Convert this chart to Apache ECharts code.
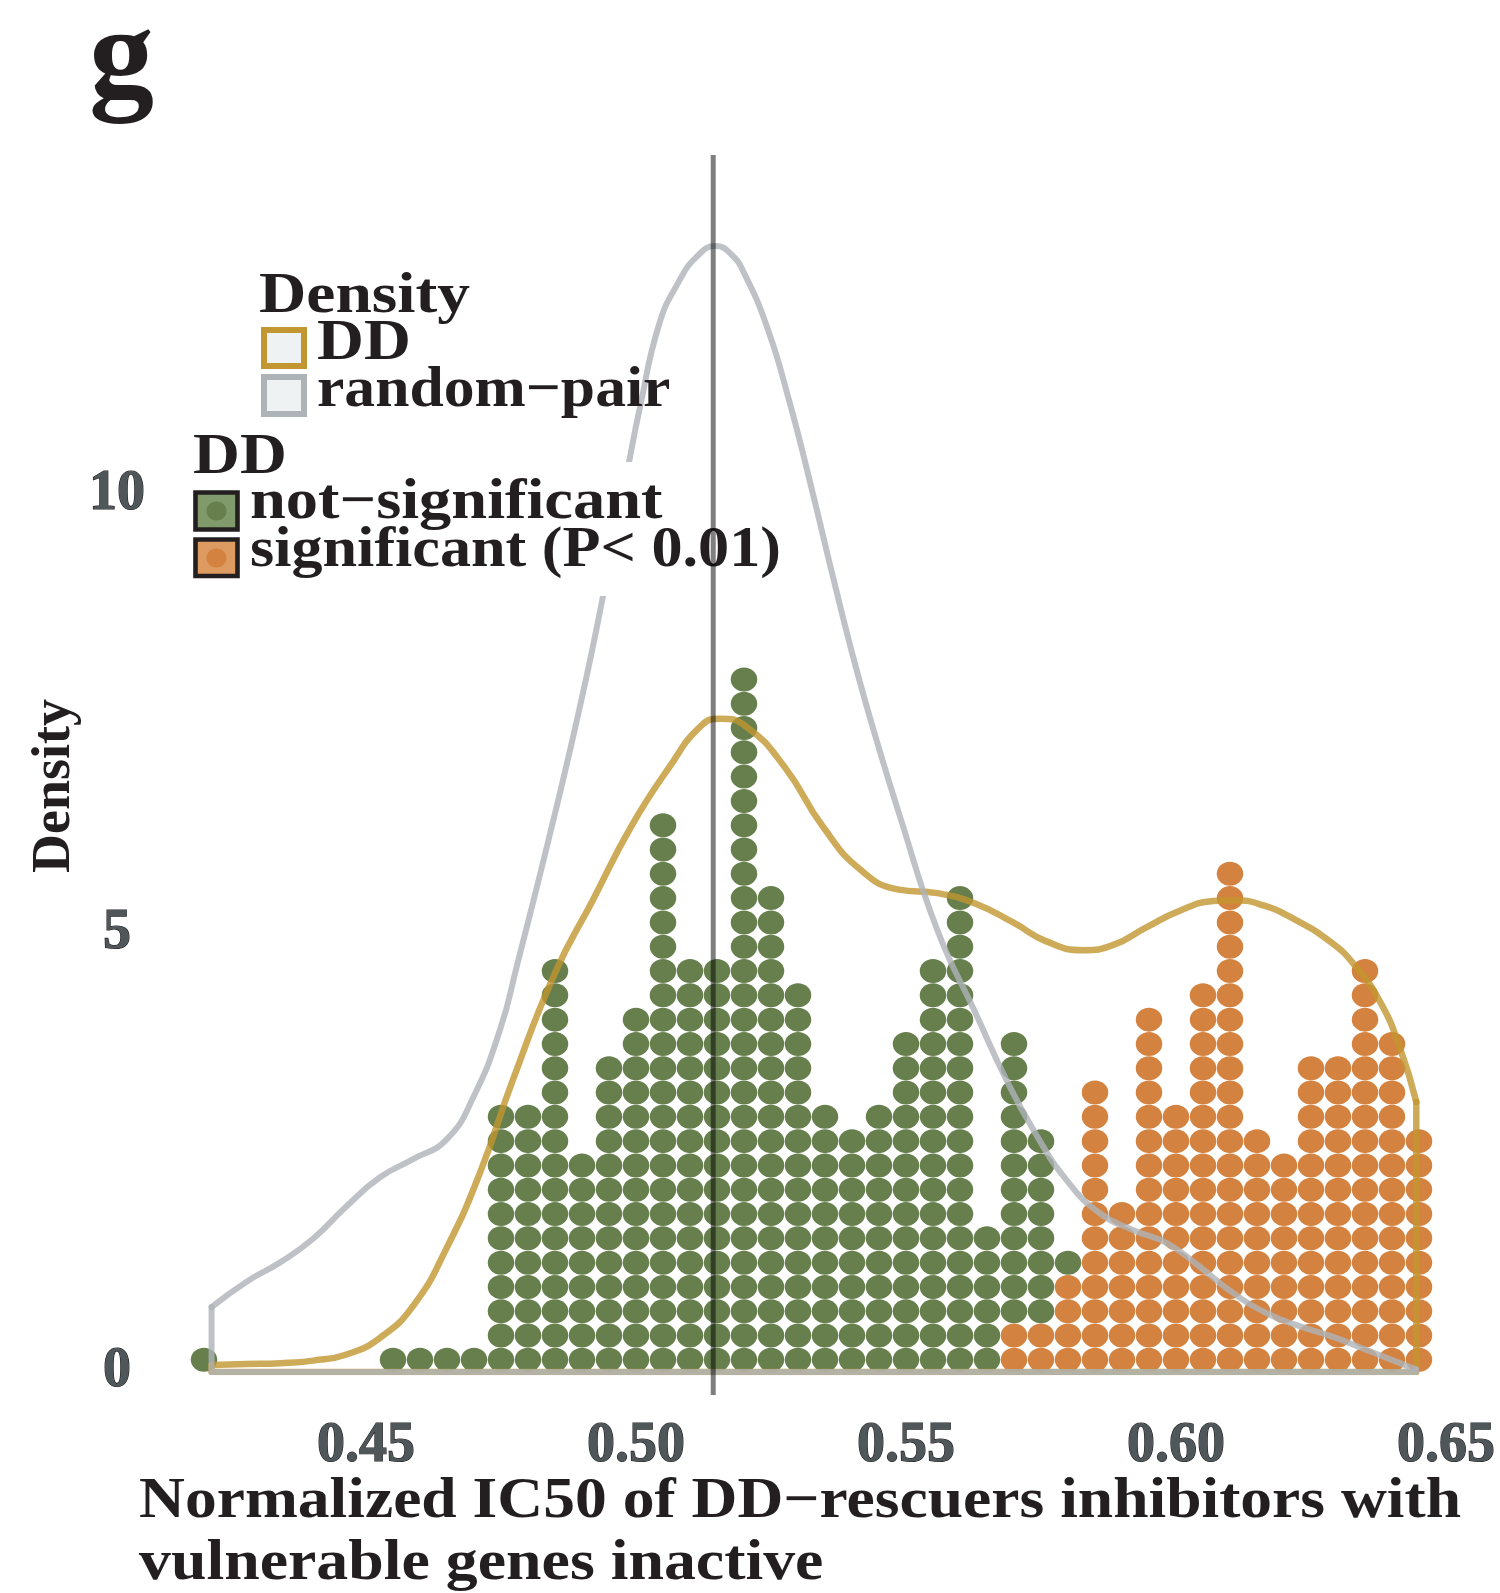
<!DOCTYPE html>
<html>
<head>
<meta charset="utf-8">
<title>Normalized IC50 dot plot</title>
<script src="https://cdn.jsdelivr.net/npm/echarts@6/dist/echarts.min.js"></script>
<style>
  html, body { margin: 0; padding: 0; background: #ffffff; }
  #chart { width: 1500px; height: 1593px; }
</style>
</head>
<body>
<div id="chart"></div>
<script>
// ---- data -------------------------------------------------------------
// dot-plot bin centres (normalized IC50)
const binX = [
  0.420, 0.425, 0.430, 0.435, 0.440, 0.445, 0.450, 0.455, 0.460, 0.465,
  0.470, 0.475, 0.480, 0.485, 0.490, 0.495, 0.500, 0.505, 0.510, 0.515,
  0.520, 0.525, 0.530, 0.535, 0.540, 0.545, 0.550, 0.555, 0.560, 0.565,
  0.570, 0.575, 0.580, 0.585, 0.590, 0.595, 0.600, 0.605, 0.610, 0.615,
  0.620, 0.625, 0.630, 0.635, 0.640, 0.645
];
// number of DD pairs per bin, by significance
const notSignificant = [
  1, 0, 0, 0, 0, 0, 0, 1, 1, 1,
  1, 11, 11, 17, 9, 13, 15, 23, 17, 17,
  29, 20, 16, 11, 10, 11, 14, 17, 20, 6,
  12, 8, 1, 0, 0, 0, 0, 0, 0, 0,
  0, 0, 0, 0, 0, 0
];
const significant = [
  0, 0, 0, 0, 0, 0, 0, 0, 0, 0,
  0, 0, 0, 0, 0, 0, 0, 0, 0, 0,
  0, 0, 0, 0, 0, 0, 0, 0, 0, 0,
  2, 2, 4, 12, 7, 15, 11, 16, 21, 10,
  9, 13, 13, 17, 14, 10
];

// kernel density of DD pairs
const ddX = [
  0.4214, 0.4279, 0.4341, 0.4402, 0.4464, 0.4526, 0.4588, 0.4649, 0.4711, 0.4772,
  0.4850, 0.4920, 0.4991, 0.5062, 0.5119, 0.5156, 0.5204, 0.5275, 0.5346, 0.5417,
  0.5487, 0.5558, 0.5629, 0.5700, 0.5760, 0.5828, 0.5884, 0.5945, 0.6007, 0.6069,
  0.6106, 0.6162, 0.6223, 0.6285, 0.6328, 0.6378, 0.6415, 0.6445
];
const ddY = [
  0.08, 0.09, 0.10, 0.13, 0.20, 0.39, 0.76, 1.41, 2.27, 3.33,
  4.55, 5.38, 6.22, 6.90, 7.36, 7.45, 7.36, 6.90, 6.22, 5.72,
  5.50, 5.46, 5.34, 5.12, 4.91, 4.81, 4.87, 5.07, 5.26, 5.37,
  5.38, 5.32, 5.15, 4.91, 4.66, 4.22, 3.69, 3.08
];

// kernel density of random pairs
const randomX = [
  0.4214, 0.4279, 0.4341, 0.4402, 0.4464, 0.4526, 0.4588, 0.4649, 0.4700, 0.4748,
  0.4779, 0.4850, 0.4901, 0.4940, 0.4986, 0.5007, 0.5043, 0.5079, 0.5113, 0.5147,
  0.5177, 0.5201, 0.5243, 0.5283, 0.5325, 0.5367, 0.5407, 0.5449, 0.5487, 0.5558,
  0.5629, 0.5686, 0.5736, 0.5797, 0.5859, 0.5920, 0.5983, 0.6044, 0.6106, 0.6168,
  0.6230, 0.6291, 0.6353, 0.6444
];
const randomY = [
  0.74, 1.03, 1.25, 1.52, 1.89, 2.22, 2.43, 2.65, 3.15, 3.90,
  4.62, 6.37, 7.72, 8.88, 10.34, 10.99, 11.95, 12.43, 12.72, 12.84,
  12.74, 12.52, 11.91, 11.09, 10.08, 9.01, 8.04, 7.13, 6.37, 5.04,
  4.09, 3.33, 2.76, 2.19, 1.81, 1.62, 1.47, 1.20, 0.90, 0.67,
  0.52, 0.40, 0.25, 0.03
];

// reference line
const referenceIC50 = 0.5143;

// tick labels
const xTicks = [0.45, 0.50, 0.55, 0.60, 0.65];
const yTicks = [0, 5, 10];

// ---- styling ----------------------------------------------------------
const FONT = '"Liberation Serif", "Times New Roman", serif';
const INK = '#231f20';
const GREEN = '#667f4d';
const ORANGE = '#d4823f';
const GOLD = 'rgba(194,150,48,0.8)';
const GREY = 'rgba(174,179,184,0.8)';
const TEXT_SIZE = 56;
const DOT_STEP = 0.2771;   // height of one stacked dot, in density units

// ---- derived series ---------------------------------------------------
// significant dots sit at the bottom of each stack, not-significant above
const sigDots = [];
const nsDots = [];
binX.forEach((x, i) => {
  for (let k = 0; k < significant[i]; k++) {
    sigDots.push([x, (k + 0.5) * DOT_STEP]);
  }
  for (let k = 0; k < notSignificant[i]; k++) {
    nsDots.push([x, (significant[i] + k + 0.5) * DOT_STEP]);
  }
});

const pairs = (xs, ys) => xs.map((x, i) => [x, ys[i]]);
// sides and baseline of a density polygon
const outline = (xs, ys) => {
  const n = xs.length;
  return [[xs[n - 1], ys[n - 1]], [xs[n - 1], 0], [xs[0], 0], [xs[0], ys[0]]];
};

// ---- chart ------------------------------------------------------------
const chart = echarts.init(document.getElementById('chart'), null, { renderer: 'canvas' });

const tickText = {
  fontFamily: FONT,
  fontWeight: 'bold',
  fontSize: TEXT_SIZE,
  color: '#50575b',
  textBorderColor: '#1e1e1e',
  textBorderWidth: 1.2
};

// bold serif caption, stretched horizontally; placed by its baseline
function caption(text, x, baseline, stretch) {
  return {
    type: 'text',
    x: x,
    y: baseline - 0.3375 * TEXT_SIZE,
    scaleX: stretch,
    z: 60,
    silent: true,
    style: {
      text: text,
      fill: INK,
      font: 'bold ' + TEXT_SIZE + 'px ' + FONT,
      align: 'left',
      verticalAlign: 'middle'
    }
  };
}

const lineSeries = (data, color, width, smooth) => ({
  type: 'line',
  xAxisIndex: 0,
  yAxisIndex: 0,
  data: data,
  smooth: smooth,
  showSymbol: false,
  symbol: 'none',
  silent: true,
  z: 5,
  lineStyle: { color: color, width: width, cap: 'round', join: 'round' }
});

const option = {
  animation: false,
  backgroundColor: '#ffffff',
  grid: [
    { left: 150, right: 0, top: 155, bottom: 221 },
    { left: 150, right: 0, top: 155, bottom: 198 }
  ],
  xAxis: [
    {
      gridIndex: 0, type: 'value', min: 0.41, max: 0.66,
      axisLine: { show: false }, axisTick: { show: false }, splitLine: { show: false },
      axisLabel: Object.assign({
        customValues: xTicks,
        formatter: v => v.toFixed(2),
        margin: 47
      }, tickText)
    },
    { gridIndex: 1, type: 'value', min: 0.41, max: 0.66, show: false }
  ],
  yAxis: [
    {
      gridIndex: 0, type: 'value', min: 0, max: 13.877,
      axisLine: { show: false }, axisTick: { show: false }, splitLine: { show: false },
      axisLabel: Object.assign({
        customValues: yTicks,
        formatter: v => String(v),
        align: 'center',
        margin: 33,
        padding: [0, 0, 12, 0]
      }, tickText)
    },
    { gridIndex: 1, type: 'value', min: 0, max: 1, show: false }
  ],
  series: [
    {
      name: 'significant (P< 0.01)', type: 'scatter', xAxisIndex: 0, yAxisIndex: 0,
      data: sigDots, symbol: 'circle', symbolSize: [26.5, 24], silent: true, z: 2,
      itemStyle: { color: ORANGE, opacity: 1 }
    },
    {
      name: 'not-significant', type: 'scatter', xAxisIndex: 0, yAxisIndex: 0,
      data: nsDots, symbol: 'circle', symbolSize: [26.5, 24], silent: true, z: 2,
      itemStyle: { color: GREEN, opacity: 1 }
    },
    lineSeries(pairs(ddX, ddY), GOLD, 6.5, 0.5),
    lineSeries(outline(ddX, ddY), GOLD, 6.5, false),
    lineSeries(pairs(randomX, randomY), GREY, 6, 0.5),
    lineSeries(outline(randomX, randomY), GREY, 6, false),
    {
      type: 'line', xAxisIndex: 1, yAxisIndex: 1,
      data: [[referenceIC50, 0], [referenceIC50, 1]],
      showSymbol: false, symbol: 'none', silent: true, z: 100,
      lineStyle: { color: 'rgba(0,0,0,0.5)', width: 5 }
    }
  ],
  graphic: [
    // panel letter
    {
      type: 'text', x: 89, y: 105 - 0.3375 * 130, z: 60, silent: true,
      style: { text: 'g', fill: INK, font: 'bold 130px ' + FONT, align: 'left', verticalAlign: 'middle' }
    },
    // axis titles
    {
      type: 'text', x: 55, y: 786, rotation: Math.PI / 2, z: 60, silent: true,
      style: { text: 'Density', fill: INK, font: 'bold 54px ' + FONT, align: 'center', verticalAlign: 'middle' }
    },
    caption('Normalized IC50 of DD\u2212rescuers inhibitors with', 139, 1521, 1.135),
    caption('vulnerable genes inactive', 139, 1583, 1.14),

    // density legend
    caption('Density', 259, 316, 1.17),
    {
      type: 'rect', z: 60, silent: true,
      shape: { x: 264, y: 330, width: 40, height: 36 },
      style: { fill: '#eef2f2', stroke: '#c29630', lineWidth: 6 }
    },
    caption('DD', 317, 363, 1.16),
    {
      type: 'rect', z: 60, silent: true,
      shape: { x: 264, y: 377, width: 40, height: 37 },
      style: { fill: '#eef2f2', stroke: '#aeb3b8', lineWidth: 6 }
    },
    caption('random\u2212pair', 317, 410, 1.10),

    // significance legend (on a white panel)
    {
      type: 'rect', z: 50, silent: true,
      shape: { x: 185, y: 462, width: 605, height: 134 },
      style: { fill: '#ffffff' }
    },
    caption('DD', 193, 477, 1.16),
    {
      type: 'rect', z: 60, silent: true,
      shape: { x: 195.5, y: 492.5, width: 42, height: 37 },
      style: { fill: '#809a6b', stroke: INK, lineWidth: 4.6 }
    },
    {
      type: 'ellipse', z: 61, silent: true,
      shape: { cx: 216.5, cy: 511, rx: 10, ry: 9.5 },
      style: { fill: GREEN }
    },
    caption('not\u2212significant', 250, 522.7, 1.15),
    {
      type: 'rect', z: 60, silent: true,
      shape: { x: 195.5, y: 539.5, width: 42, height: 36.5 },
      style: { fill: '#dd9b62', stroke: INK, lineWidth: 4.6 }
    },
    {
      type: 'ellipse', z: 61, silent: true,
      shape: { cx: 216.5, cy: 558, rx: 10, ry: 9.5 },
      style: { fill: ORANGE }
    },
    caption('significant (P< 0.01)', 250, 570.5, 1.11)
  ]
};

chart.setOption(option);
</script>
</body>
</html>
